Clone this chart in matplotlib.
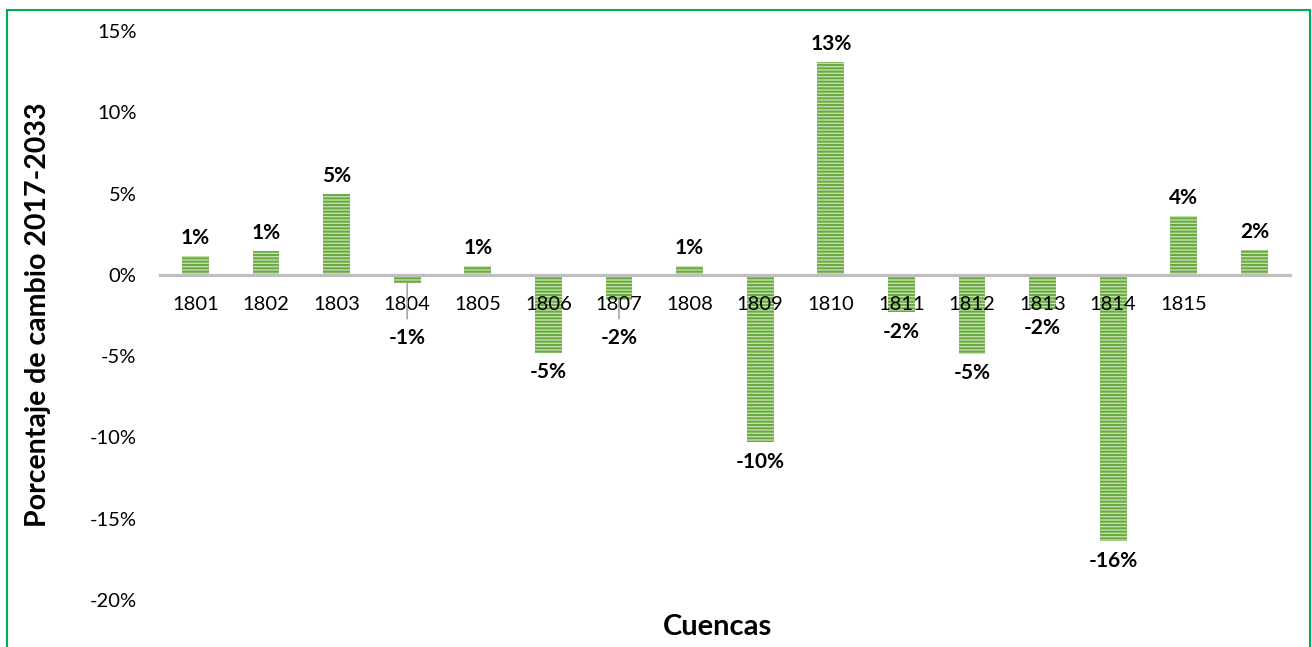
"""Percentage change 2017-2033 by basin, bar chart."""

import matplotlib.pyplot as plt
from matplotlib.patches import Rectangle
from matplotlib.ticker import FuncFormatter, MultipleLocator

GREEN_DARK = "#6AAA42"
GREEN_LIGHT = "#C6E2B2"
AXIS_GREY = "#BFBFBF"
FRAME_GREEN = "#00B050"

cuencas = ["1801", "1802", "1803", "1804", "1805", "1806", "1807", "1808",
           "1809", "1810", "1811", "1812", "1813", "1814", "1815", ""]
cambio = [1.15, 1.45, 5.0, -0.52, 0.55, -4.8, -1.55, 0.55,
          -10.3, 13.1, -2.3, -4.85, -2.1, -16.4, 3.6, 1.55]

plt.rcParams["font.family"] = ["Lato", "DejaVu Sans"]
plt.rcParams["hatch.linewidth"] = 1.5

fig = plt.figure(figsize=(13.12, 6.47), dpi=100)
ax = fig.add_axes([0.122, 0.0726, 0.861, 0.8795])

x = list(range(len(cambio)))
ax.bar(x, cambio, width=0.38, color=GREEN_LIGHT, edgecolor=GREEN_DARK,
       linewidth=0, hatch="-----", zorder=1)

# value labels; short negative bars get their label pushed below the category names
for xi, v in zip(x, cambio):
    txt = f"{round(v):.0f}%"
    if v >= 0:
        ax.annotate(txt, (xi, v), xytext=(0, 13), textcoords="offset points",
                    ha="center", va="center", fontsize=15, fontweight="bold")
    elif v > -2:
        ax.annotate(txt, (xi, -2.7), xytext=(0, -14), textcoords="offset points",
                    ha="center", va="center", fontsize=15, fontweight="bold")
        ax.annotate("", (xi, v), xytext=(xi, -2.7), textcoords="data",
                    arrowprops=dict(arrowstyle="-", color="#A6A6A6", lw=1.2,
                                    shrinkA=0, shrinkB=0))
    else:
        ax.annotate(txt, (xi, v), xytext=(0, -14), textcoords="offset points",
                    ha="center", va="center", fontsize=15, fontweight="bold")

ax.set_xlim(-0.5, len(cambio) - 0.5)
ax.set_ylim(-20, 15)
ax.yaxis.set_major_locator(MultipleLocator(5))
ax.yaxis.set_major_formatter(FuncFormatter(lambda v, _: f"{v:.0f}%"))
ax.set_xticks(x)
ax.set_xticklabels(cuencas)
ax.tick_params(axis="x", length=0, pad=15, labelsize=14.5)
ax.tick_params(axis="y", length=0, pad=17, labelsize=14.5)

for side in ("top", "right", "left"):
    ax.spines[side].set_visible(False)
ax.spines["bottom"].set_position(("data", 0))
ax.spines["bottom"].set_color(AXIS_GREY)
ax.spines["bottom"].set_linewidth(2.3)
ax.spines["bottom"].set_zorder(3)

fig.text(0.029, 0.513, "Porcentaje de cambio 2017-2033", rotation=90,
         ha="center", va="center", fontsize=20.5, fontweight="bold")
fig.text(0.547, 0.031, "Cuencas", ha="center", va="center",
         fontsize=21, fontweight="bold")

fig.patches.append(Rectangle((7 / 1312, -0.02), 1303 / 1312, 1.02 - 10 / 647,
                             transform=fig.transFigure, fill=False,
                             edgecolor=FRAME_GREEN, linewidth=1.5))

fig.savefig("out.png", dpi=100)
